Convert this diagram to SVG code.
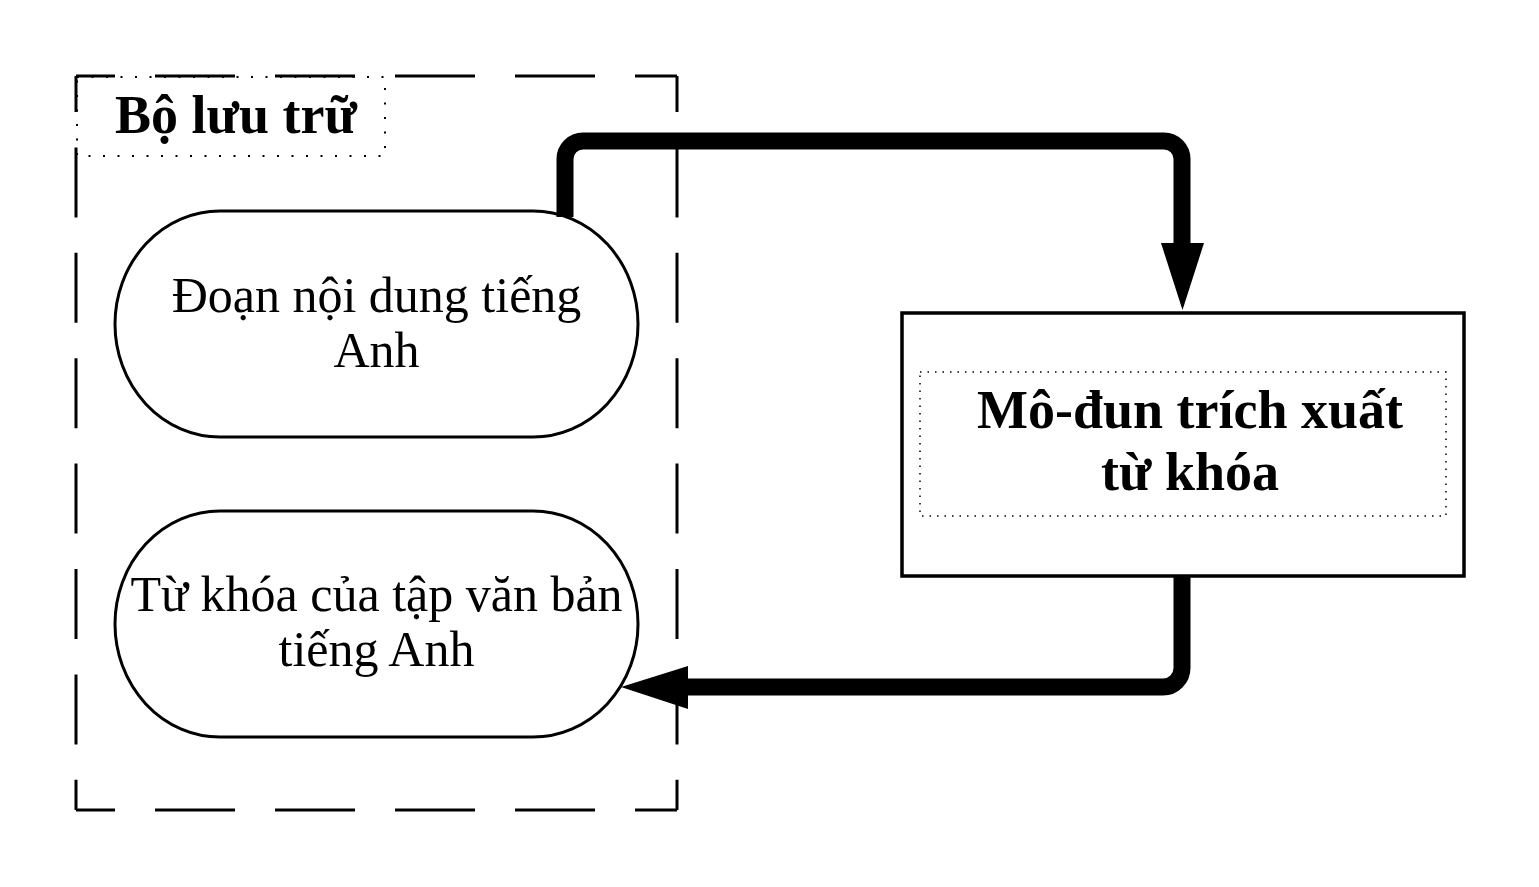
<svg xmlns="http://www.w3.org/2000/svg" width="1539" height="887" viewBox="0 0 1539 887">
<style>
.frame{fill:none;stroke:#000;stroke-width:3}
.dot{fill:none;stroke:#000;stroke-width:2;stroke-dasharray:2 12.5}
.dotf{fill:none;stroke:#000;stroke-width:1.5;stroke-dasharray:1.5 6}
.node{fill:none;stroke:#000;stroke-width:3}
.box{fill:#fff;stroke:#000;stroke-width:3.5}
.conn{fill:none;stroke:#000;stroke-width:17}
.head{fill:#000;stroke:none}
.t{font-family:"Liberation Serif","Times New Roman",serif;font-size:50px;fill:#000;text-anchor:middle}
.tb{font-family:"Liberation Serif","Times New Roman",serif;font-size:54px;font-weight:bold;fill:#000;text-anchor:middle}
</style>
<rect width="1539" height="887" fill="#fff"/>
<g id="storage">
  <line class="frame" x1="76" y1="76" x2="677" y2="76" stroke-dasharray="80 40" stroke-dashoffset="41"/>
  <line class="frame" x1="76" y1="810" x2="677" y2="810" stroke-dasharray="80 40" stroke-dashoffset="41"/>
  <line class="frame" x1="76" y1="76" x2="76" y2="810" stroke-dasharray="70 35.4" stroke-dashoffset="34"/>
  <line class="frame" x1="677" y1="76" x2="677" y2="810" stroke-dasharray="70 35.4" stroke-dashoffset="34"/>
  <rect class="dot" x="77" y="77" width="308" height="79"/>
  <text class="tb" x="236" y="133">Bộ lưu trữ</text>
</g>
<g id="node-doan">
  <rect class="node" x="115" y="211" width="523" height="226" rx="105" ry="113"/>
  <text class="t" x="376.5" y="312">Đoạn nội dung tiếng</text>
  <text class="t" x="376.5" y="367">Anh</text>
</g>
<g id="node-tukhoa">
  <rect class="node" x="115" y="511" width="523" height="226" rx="105" ry="113"/>
  <text class="t" x="376.5" y="611">Từ khóa của tập văn bản</text>
  <text class="t" x="376.5" y="666">tiếng Anh</text>
</g>
<g id="node-module">
  <rect class="box" x="902" y="313" width="562" height="263"/>
  <rect class="dotf" x="920" y="372" width="526" height="144"/>
  <text class="tb" x="1190" y="428">Mô-đun trích xuất</text>
  <text class="tb" x="1190" y="490">từ khóa</text>
</g>
<g id="connectors">
  <path class="conn" d="M565 217 V159 A18 18 0 0 1 583 141 H1164 A18 18 0 0 1 1182 159 V246"/>
  <polygon class="head" points="1161,243 1204,243 1182.5,310"/>
  <path class="conn" d="M1182 576 V668 A19 19 0 0 1 1163 687 H685"/>
  <polygon class="head" points="688,666 621,687 688,709"/>
</g>
</svg>
